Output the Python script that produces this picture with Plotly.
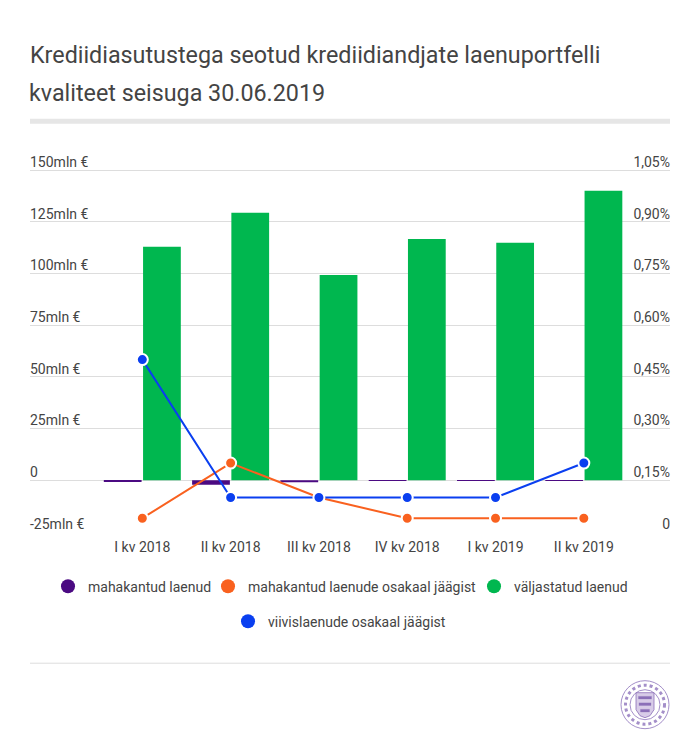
import plotly.graph_objects as go

W, H = 700, 745
STEP = 51.714
EXTRA = 20.0  # blank px above the top gridline, keeps the shifted top tick labels visible
L, R, T, B = 30, 30, 170.3 - EXTRA, 745 - 532.3
TEXT = "#444444"
FONT = "Roboto"

categories = ["I kv 2018", "II kv 2018", "III kv 2018", "IV kv 2018", "I kv 2019", "II kv 2019"]
written_off = [-0.4, -2.1, -1.0, -0.3, -0.3, -0.3]
issued = [112.9, 129.3, 99.3, 116.7, 114.8, 140.0]
written_off_share = [0.04, 0.20, 0.10, 0.04, 0.04, 0.04]
overdue_share = [0.50, 0.10, 0.10, 0.10, 0.10, 0.20]

left_vals = [-25, 0, 25, 50, 75, 100, 125, 150]
left_text = ["-25mln €", "0", "25mln €", "50mln €", "75mln €", "100mln €", "125mln €", "150mln €"]
right_vals = [0, 0.15, 0.30, 0.45, 0.60, 0.75, 0.90, 1.05]
right_text = ["0", "0,15%", "0,30%", "0,45%", "0,60%", "0,75%", "0,90%", "1,05%"]

names = ["mahakantud laenud", "mahakantud laenude osakaal jäägist", "väljastatud laenud", "viivislaenude osakaal jäägist"]
PURPLE, ORANGE, GREEN, BLUE = "#4b0a82", "#f9611f", "#00b74f", "#0a3ff0"


def px(x, y):
    return (x - L) / (W - L - R), 1 - (y - T) / (H - T - B)


fig = go.Figure()
fig.add_bar(x=categories, y=written_off, marker_color=PURPLE, marker_line_width=0, name=names[0], showlegend=False)
fig.add_bar(x=categories, y=issued, marker_color=GREEN, marker_line_width=0, name=names[2], showlegend=False)
for vals, col, nm in [(written_off_share, ORANGE, names[1]), (overdue_share, BLUE, names[3])]:
    fig.add_scatter(x=categories, y=vals, yaxis="y2", mode="lines+markers", name=nm, showlegend=False,
                    line=dict(color=col, width=2),
                    marker=dict(color=col, size=11, line=dict(color="white", width=2)))

legend_items = [(names[0], PURPLE, "legend", 88, 587), (names[1], ORANGE, "legend2", 248, 587),
                (names[2], GREEN, "legend3", 514, 587), (names[3], BLUE, "legend4", 268, 622)]
legend_layout = {}
for nm, col, leg, tx, ty in legend_items:
    fig.add_scatter(x=[None], y=[None], mode="markers", name=nm, legend=leg, marker=dict(color=col, size=14))
    legend_layout[leg] = dict(orientation="h", xanchor="left", yanchor="middle", x=px(tx - 40, 0)[0], y=px(0, ty)[1],
                              font=dict(family=FONT, size=14, color=TEXT), itemclick=False, itemdoubleclick=False,
                              bgcolor="rgba(0,0,0,0)")

shapes = []
x0, y0 = px(30, 119); x1, y1 = px(670, 124)
shapes.append(dict(type="rect", xref="paper", yref="paper", x0=x0, x1=x1, y0=y0, y1=y1, fillcolor="#e6e6e6", line_width=0))
x0, y0 = px(30, 663.5); x1, _ = px(670, 663.5)
shapes.append(dict(type="line", xref="paper", yref="paper", x0=x0, x1=x1, y0=y0, y1=y0, line=dict(color="#dddddd", width=1)))


def seal_circle(cx, cy, r, w, color, dash="solid"):
    a0, b0 = px(cx - r, cy + r); a1, b1 = px(cx + r, cy - r)
    return dict(type="circle", xref="paper", yref="paper", x0=a0, x1=a1, y0=b0, y1=b1,
                line=dict(color=color, width=w, dash=dash))


def seal_path(points, fill, line_color, w=0.8):
    coords = ["{:.5f},{:.5f}".format(*px(x, y)) for x, y in points]
    return dict(type="path", xref="paper", yref="paper", path="M" + " L".join(coords) + " Z",
                fillcolor=fill, line=dict(color=line_color, width=w))


# seal in the lower right corner
cx, cy = 645, 705
shapes.append(seal_circle(cx, cy, 24, 1, "#a48fc9"))
shapes.append(seal_circle(cx, cy, 19.5, 3, "#a48fc9", "dot"))
shapes.append(seal_circle(cx, cy, 15, 1, "#a48fc9"))
shapes.append(seal_path([(cx - 9, cy - 12), (cx + 9, cy - 12), (cx + 9, cy + 5), (cx + 5, cy + 11), (cx, cy + 13),
                         (cx - 5, cy + 11), (cx - 9, cy + 5)], "#d8cce8", "#8b6fb8"))
for dy, half in [(-7, 6.5), (-0.5, 6), (6, 4.5)]:
    shapes.append(seal_path([(cx - half, cy + dy - 1.3), (cx + half, cy + dy - 1.3),
                             (cx + half, cy + dy + 1.3), (cx - half, cy + dy + 1.3)], "#8b6fb8", "#8b6fb8", 0.3))

title2_x, title2_y = px(30, 93)
fig.update_layout(
    width=W, height=H,
    margin=dict(l=L, r=R, t=T, b=B, pad=0),
    paper_bgcolor="white", plot_bgcolor="white",
    font=dict(family=FONT, size=14, color=TEXT),
    title=dict(text="Krediidiasutustega seotud krediidiandjate laenuportfelli", x=30 / W, xanchor="left",
               y=1 - 55 / H, yanchor="middle", font=dict(family=FONT, size=23.3, color=TEXT)),
    annotations=[dict(text="kvaliteet seisuga 30.06.2019", xref="paper", yref="paper", x=title2_x, y=title2_y,
                      xanchor="left", yanchor="middle", xshift=-3, showarrow=False,
                      font=dict(family=FONT, size=23.3, color=TEXT))],
    barmode="group", bargap=0.111, bargroupgap=0.038,
    xaxis=dict(type="category", categoryorder="array", categoryarray=categories, range=[-1.272, 5.976],
               showgrid=False, zeroline=False, ticks="", showline=False, ticklabelstandoff=5,
               tickfont=dict(family=FONT, size=14, color=TEXT)),
    yaxis=dict(range=[-25, 150 + EXTRA / STEP * 25], tickvals=left_vals, ticktext=left_text,
               ticklabelposition="inside", ticklabelshift=-8, ticklabelstandoff=-3, showgrid=True,
               gridcolor="#dddddd", gridwidth=1, zeroline=False, ticks="", showline=False,
               tickfont=dict(family=FONT, size=14, color=TEXT)),
    yaxis2=dict(range=[0, 1.05 + EXTRA / STEP * 0.15], overlaying="y", side="right", tickvals=right_vals,
                ticktext=right_text, ticklabelposition="inside", ticklabelshift=-8, ticklabelstandoff=-3,
                showgrid=False, zeroline=False, ticks="", showline=False,
                tickfont=dict(family=FONT, size=14, color=TEXT)),
    showlegend=True,
    shapes=shapes,
    hovermode="closest",
    **legend_layout,
)
fig.write_html("out.html", config={"displayModeBar": False}, post_script="document.body.style.margin='0';")
